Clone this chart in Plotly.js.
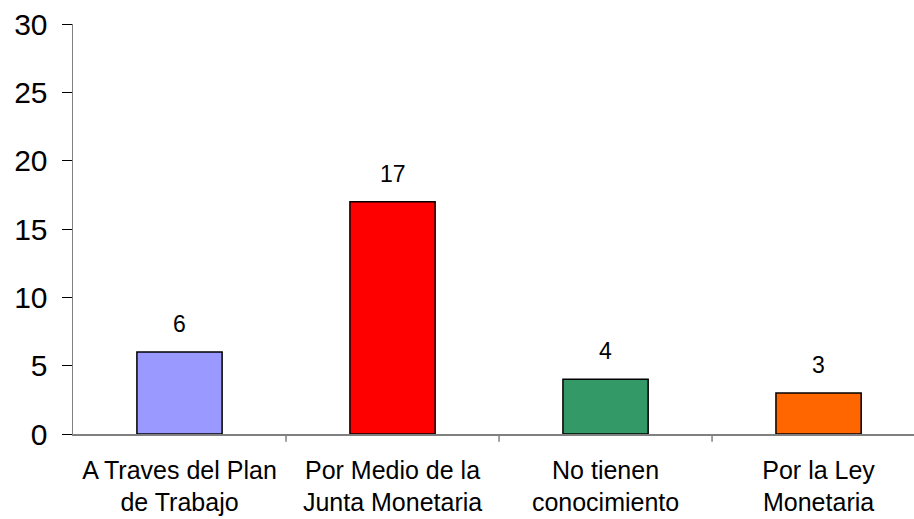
<!DOCTYPE html>
<html><head><meta charset="utf-8">
<script src="https://cdn.plot.ly/plotly-3.0.1.min.js"></script>
<style>html,body{margin:0;padding:0;background:#fff}#c{width:914px;height:519px}</style>
</head><body><div id="c"></div>
<script>
const categories = ["A Traves del Plan<br>de Trabajo","Por Medio de la<br>Junta Monetaria","No tienen<br>conocimiento","Por la Ley<br>Monetaria"];
const values = [6, 17, 4, 3];
const colors = ["#9999FF","#FF0000","#339966","#FF6600"];
const yTicks = [0,5,10,15,20,25,30];

const font = "Liberation Sans, Arial, sans-serif";
const trace = {
  type: "bar",
  x: categories.map((c,i)=>i),
  y: values,
  width: 0.4,
  marker: {color: colors, line: {color: "#000", width: 1.5}},
  hoverinfo: "none"
};
const annotations = values.map((v,i)=>({
  x: i, y: v, text: String(v), showarrow: false, yanchor: "bottom", yshift: 13,
  font: {family: font, size: 23, color: "#000"}
}));
const layout = {
  width: 914, height: 519,
  margin: {l: 73, r: 0, t: 24, b: 85},
  paper_bgcolor: "#fff", plot_bgcolor: "#fff",
  showlegend: false,
  bargap: 0.6,
  xaxis: {
    type: "linear",
    range: [-0.5, 3.448],
    tickmode: "array",
    tickvals: [0,1,2,3],
    ticktext: categories,
    ticks: "", showgrid: false, zeroline: false,
    showline: true, linecolor: "#808080", linewidth: 1.5,
    tickfont: {family: font, size: 25, color: "#000"},
    ticklabelstandoff: 13
  },
  yaxis: {
    range: [0, 30],
    tickmode: "array", tickvals: yTicks, ticktext: yTicks.map(String),
    ticks: "outside", ticklen: 10, tickcolor: "#000", tickwidth: 1,
    showgrid: false, zeroline: false,
    showline: true, linecolor: "#808080", linewidth: 1.5,
    tickfont: {family: font, size: 30, color: "#000"},
    ticklabelstandoff: 8
  },
  shapes: [0.5,1.5,2.5].map(b=>({type:"line", xref:"x", yref:"paper", x0:b, x1:b, y0:0, y1:-0.019, line:{color:"#808080", width:1.5}})),
  annotations: annotations
};
Plotly.newPlot("c", [trace], layout, {displayModeBar: false, staticPlot: true});
</script></body></html>
